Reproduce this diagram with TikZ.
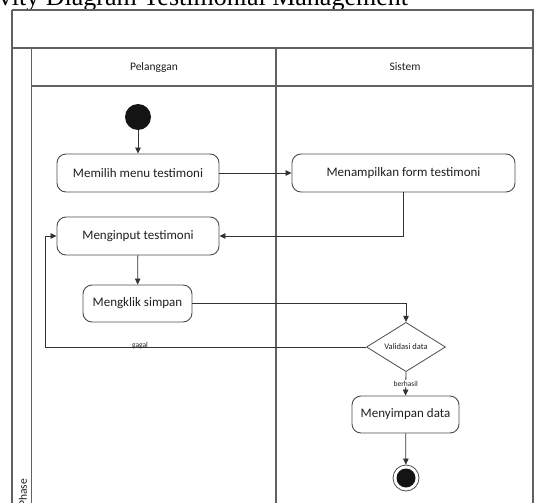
\documentclass[tikz,border=0pt]{standalone}
\usepackage{fontspec}
\setmainfont{Carlito}
\newfontfamily\titlefont{Liberation Serif}
\usetikzlibrary{shapes.geometric,arrows.meta}
\begin{document}
\begin{tikzpicture}[x=1pt,y=-1pt,
  frame/.style={draw=black!62, line width=1.1pt},
  action/.style={draw=black!70, line width=0.9pt, rounded corners=9pt,
    minimum width=#1, minimum height=38pt, inner sep=0pt,
    font=\fontsize{13}{15}\selectfont, text=black!88},
  decision/.style={diamond, draw=black!70, line width=0.8pt, inner sep=0pt,
    minimum width=79pt, minimum height=38pt,
    font=\fontsize{8.5}{10}\selectfont, text=black!88},
  flow/.style={draw=black!80, line width=0.8pt, -{Triangle[length=6pt,width=5.5pt]}},
  guard/.style={font=\fontsize{7.5}{9}\selectfont, text=black!88, inner sep=1pt},
  lanelabel/.style={font=\fontsize{11.5}{13}\selectfont, text=black!88}
]
\useasboundingbox (0,0) rectangle (538,503);
\clip (0,0) rectangle (538,503);

% title above the frame
\node[anchor=base west, inner sep=0pt, font=\titlefont\fontsize{26}{30}\selectfont]
  (title) at (-46,6) {Activity Diagram Testimonial Management};

% pool and swimlanes
\draw[frame] (12,10) -- (533,10) -- (533,510);
\draw[frame] (12,10) -- (12,510);
\draw[frame] (12,48) -- (533,48);
\draw[frame] (31.7,48) -- (31.7,510);
\draw[frame] (31.7,86) -- (533,86);
\draw[frame] (276,48) -- (276,510);

\node[lanelabel] (pelanggan) at (154,67) {Pelanggan};
\node[lanelabel] (sistem) at (405,67) {Sistem};
\node[lanelabel, rotate=90, anchor=base west, inner sep=0pt] (phase) at (27,507) {Phase};

% activity nodes
\node[circle, fill=black!92, minimum size=26pt, inner sep=0pt] (start) at (138,117) {};
\node[action=162pt] (memilih) at (138,173) {Memilih menu testimoni};
\node[action=223pt] (menampilkan) at (403.5,173) {Menampilkan form testimoni};
\node[action=162pt] (menginput) at (138,236) {Menginput testimoni};
\node[action=109pt, minimum height=37pt] (mengklik) at (137.5,303.5) {Mengklik simpan};
\node[decision] (validasi) at (406,347) {Validasi data};
\node[action=107pt, minimum height=37pt] (menyimpan) at (405.5,414.5) {Menyimpan data};
\node[circle, draw=black!70, line width=0.8pt, minimum size=26pt, inner sep=0pt] (end) at (406,478) {};
\node[circle, fill=black!92, minimum size=19pt, inner sep=0pt] (endcore) at (end) {};

\coordinate (back) at (45,347);

% control flow
\draw[flow] (start) -- (memilih);
\draw[flow] (memilih) -- (menampilkan);
\draw[flow] (menampilkan.south) |- (menginput.east);
\draw[flow] (menginput) -- (mengklik);
\draw[flow] (mengklik.east) -| (validasi.north);
\draw[flow] (validasi.west) -- (back) |- (menginput.west);
\node[guard] (gagal) at (140,346) {gagal};
\draw[flow] (validasi.south) -- node[guard, fill=white] (berhasil) {berhasil} (menyimpan.north);
\draw[flow] (menyimpan) -- (end);
\end{tikzpicture}
\end{document}
